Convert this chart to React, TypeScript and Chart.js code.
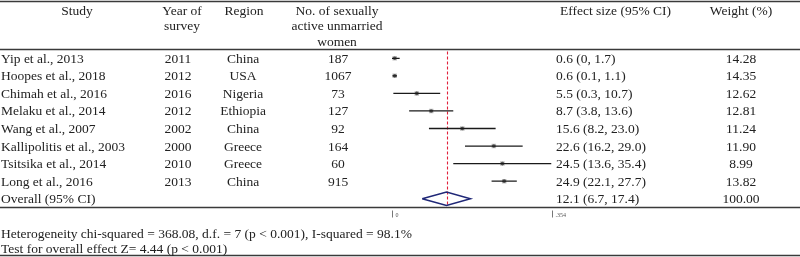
import React, { useEffect, useRef } from "react";
import { Chart, registerables } from "chart.js";

Chart.register(...registerables);

const studies = [
  "Yip et al., 2013",
  "Hoopes et al., 2018",
  "Chimah et al., 2016",
  "Melaku et al., 2014",
  "Wang et al., 2007",
  "Kallipolitis et al., 2003",
  "Tsitsika et al., 2014",
  "Long et al., 2016",
];
const years = ["2011", "2012", "2016", "2012", "2002", "2000", "2010", "2013"];
const regions = ["China", "USA", "Nigeria", "Ethiopia", "China", "Greece", "Greece", "China"];
const sampleSizes = ["187", "1067", "73", "127", "92", "164", "60", "915"];
const effects = [0.6, 0.6, 5.5, 8.7, 15.6, 22.6, 24.5, 24.9];
const lowers = [0, 0.1, 0.3, 3.8, 8.2, 16.2, 13.6, 22.1];
const uppers = [1.7, 1.1, 10.7, 13.6, 23.0, 29.0, 35.4, 27.7];
const weights = ["14.28", "14.35", "12.62", "12.81", "11.24", "11.90", "8.99", "13.82"];
const effectLabels = [
  "0.6 (0, 1.7)",
  "0.6 (0.1, 1.1)",
  "5.5 (0.3, 10.7)",
  "8.7 (3.8, 13.6)",
  "15.6 (8.2, 23.0)",
  "22.6 (16.2, 29.0)",
  "24.5 (13.6, 35.4)",
  "24.9 (22.1, 27.7)",
];
const overall = { label: "Overall (95% CI)", est: 12.1, lo: 6.7, hi: 17.4, text: "12.1 (6.7, 17.4)", weight: "100.00" };
const axisTicks = [0, 35.4];
const axisTickLabels = ["0", ".354"];
const footnotes = [
  "Heterogeneity chi-squared = 368.08, d.f. = 7 (p < 0.001), I-squared = 98.1%",
  "Test for overall effect Z= 4.44 (p < 0.001)",
];

const FONT = "13.5px 'Liberation Serif', 'Times New Roman', serif";
const TEXT = "#222";

export default function App() {
  const ref = useRef<HTMLCanvasElement | null>(null);

  useEffect(() => {
    const canvas = ref.current;
    if (!canvas) return;
    const n = studies.length;
    const datasets: any[] = [];
    studies.forEach((s, i) => {
      datasets.push({
        type: "line",
        data: [
          { x: lowers[i], y: i },
          { x: uppers[i], y: i },
        ],
        borderColor: "#1a1a1a",
        borderWidth: 1.3,
        pointRadius: 0,
        showLine: true,
      });
    });
    datasets.push({
      type: "scatter",
      data: effects.map((e, i) => ({ x: e, y: i })),
      pointStyle: "rect",
      pointRadius: 3.2,
      backgroundColor: "rgba(140,140,140,0.55)",
      borderWidth: 0,
    });
    datasets.push({
      type: "scatter",
      data: effects.map((e, i) => ({ x: e, y: i })),
      pointStyle: "circle",
      pointRadius: 1.8,
      backgroundColor: "#111",
      borderWidth: 0,
    });
    const h = 0.38;
    datasets.push({
      type: "line",
      data: [
        { x: overall.lo, y: n },
        { x: overall.est, y: n - h },
        { x: overall.hi, y: n },
        { x: overall.est, y: n + h },
        { x: overall.lo, y: n },
      ],
      borderColor: "#1f2777",
      borderWidth: 1.5,
      pointRadius: 0,
      showLine: true,
      tension: 0,
    });

    const tablePlugin = {
      id: "table",
      beforeDatasetsDraw(chart: any) {
        const ctx = chart.ctx;
        const xs = chart.scales.x;
        const ys = chart.scales.y;
        const x = xs.getPixelForValue(overall.est);
        ctx.save();
        ctx.strokeStyle = "#e0203a";
        ctx.lineWidth = 1.1;
        ctx.setLineDash([3, 2]);
        ctx.beginPath();
        ctx.moveTo(Math.round(x) + 0.5, chart.chartArea.top + 2);
        ctx.lineTo(Math.round(x) + 0.5, ys.getPixelForValue(n + h));
        ctx.stroke();
        ctx.restore();
      },
      afterDraw(chart: any) {
        const ctx = chart.ctx;
        const xs = chart.scales.x;
        const ys = chart.scales.y;
        const area = chart.chartArea;
        ctx.save();
        ctx.strokeStyle = "#3a3a3a";
        ctx.lineWidth = 1.5;
        const hline = (y: number) => {
          ctx.beginPath();
          ctx.moveTo(0, y);
          ctx.lineTo(800, y);
          ctx.stroke();
        };
        hline(1.5);
        hline(area.top);
        hline(area.bottom);
        hline(255.5);

        ctx.fillStyle = TEXT;
        ctx.font = FONT;
        ctx.textBaseline = "middle";
        const txt = (s: string, x: number, y: number, align: CanvasTextAlign) => {
          ctx.textAlign = align;
          ctx.fillText(s, x, y);
        };
        txt("Study", 77, 11, "center");
        txt("Year of", 182, 11, "center");
        txt("survey", 182, 26, "center");
        txt("Region", 244, 11, "center");
        txt("No. of sexually", 337, 11, "center");
        txt("active unmarried", 337, 26, "center");
        txt("women", 337, 42, "center");
        txt("Effect size (95% CI)", 560, 11, "left");
        txt("Weight (%)", 741, 11, "center");

        studies.forEach((s, i) => {
          const y = ys.getPixelForValue(i) + 1;
          txt(s, 1, y, "left");
          txt(years[i], 178, y, "center");
          txt(regions[i], 243, y, "center");
          txt(sampleSizes[i], 338, y, "center");
          txt(effectLabels[i], 556, y, "left");
          txt(weights[i], 741, y, "center");
        });
        const yo = ys.getPixelForValue(n) + 1;
        txt(overall.label, 1, yo, "left");
        txt(overall.text, 556, yo, "left");
        txt(overall.weight, 741, yo, "center");

        ctx.strokeStyle = "#777";
        ctx.lineWidth = 1;
        ctx.font = "6px 'Liberation Serif', serif";
        ctx.fillStyle = "#555";
        axisTicks.forEach((t, i) => {
          const x = Math.round(xs.getPixelForValue(t)) + 0.5;
          ctx.beginPath();
          ctx.moveTo(x, area.bottom + 3);
          ctx.lineTo(x, area.bottom + 10);
          ctx.stroke();
          txt(axisTickLabels[i], x + 3, area.bottom + 8, "left");
        });

        ctx.font = FONT;
        ctx.fillStyle = TEXT;
        txt(footnotes[0], 1, 234, "left");
        txt(footnotes[1], 1, 249, "left");
        ctx.restore();
      },
    };

    const chart = new Chart(canvas, {
      type: "scatter",
      data: { datasets },
      options: {
        animation: false,
        responsive: false,
        devicePixelRatio: 1,
        layout: { padding: { left: 392, right: 248.5, top: 49.5, bottom: 49.5 } },
        plugins: { legend: { display: false }, tooltip: { enabled: false } },
        scales: {
          x: { type: "linear", min: 0, max: 35.4, display: false },
          y: { type: "linear", min: -0.5, max: n + 0.5, reverse: true, display: false },
        },
      },
      plugins: [tablePlugin],
    });
    return () => chart.destroy();
  }, []);

  return (
    <div style={{ position: "absolute", left: 0, top: 0, width: 800, height: 257, background: "#fff" }}>
      <canvas ref={ref} width={800} height={257} style={{ display: "block" }} />
    </div>
  );
}
